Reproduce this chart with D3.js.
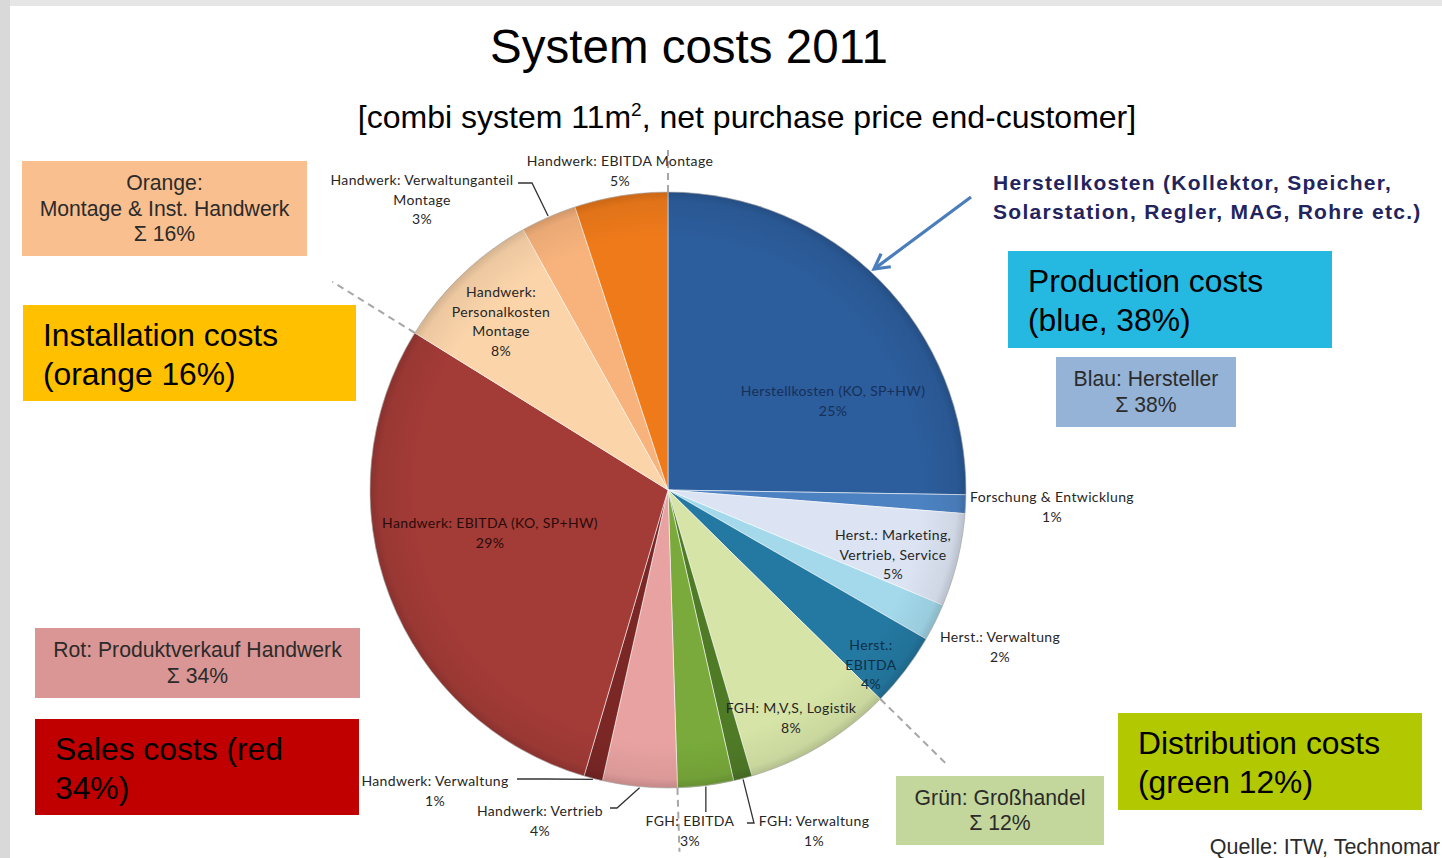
<!DOCTYPE html>
<html>
<head>
<meta charset="utf-8">
<script src="https://cdn.jsdelivr.net/npm/d3@7"></script>
<style>
  body { margin: 0; background: #ffffff; }
  svg { display: block; }
</style>
</head>
<body>
<svg id="chart" width="1442" height="858"></svg>
<script>
// ---- data -------------------------------------------------------------
const categories = [
  ["Herstellkosten (KO, SP+HW)"],
  ["Forschung & Entwicklung"],
  ["Herst.: Marketing,", "Vertrieb, Service"],
  ["Herst.: Verwaltung"],
  ["Herst.:", "EBITDA"],
  ["FGH: M,V,S,  Logistik"],
  ["FGH: Verwaltung"],
  ["FGH: EBITDA"],
  ["Handwerk: Vertrieb"],
  ["Handwerk: Verwaltung"],
  ["Handwerk: EBITDA (KO, SP+HW)"],
  ["Handwerk:", "Personalkosten", "Montage"],
  ["Handwerk: Verwaltunganteil", "Montage"],
  ["Handwerk: EBITDA  Montage"]
];
const values = [25, 1, 5, 2, 4, 8, 1, 3, 4, 1, 29, 8, 3, 5];
const sliceGroups = ["blue","blue","blue","blue","blue","green","green","green",
                     "red","red","red","orange","orange","orange"];
const sliceColors = ["#2c5d9c", "#4c82c2", "#dce4f3", "#a3d9eb", "#2479a2",
                     "#d6e4a7", "#4f7b27", "#79aa3b",
                     "#e8a2a1", "#7b2725", "#a33b37",
                     "#fbd4aa", "#f8b37c", "#ef7a1a"];

const titleText = "System costs 2011";
const subtitleParts = ["[combi system 11m", "2", ", net purchase price end-customer]"];
const heading = ["Herstellkosten (Kollektor, Speicher,", "Solarstation, Regler, MAG, Rohre etc.)"];
const sourceText = "Quelle: ITW, Technomar";

// group summary boxes
const summaryBoxes = [
  { lines: ["Orange:", "Montage & Inst. Handwerk", "\u03A3 16%"], fill: "#f9bf8f", x: 22, y: 161, w: 285, h: 95 },
  { lines: ["Blau: Hersteller", "\u03A3 38%"], fill: "#95b3d7", x: 1056, y: 357, w: 180, h: 70 },
  { lines: ["Rot: Produktverkauf Handwerk", "\u03A3 34%"], fill: "#d99694", x: 35, y: 628, w: 325, h: 70 },
  { lines: ["Gr\u00FCn: Gro\u00DFhandel", "\u03A3 12%"], fill: "#c3d69b", x: 896, y: 776, w: 208, h: 69 }
];
// english call-out boxes
const calloutBoxes = [
  { lines: ["Installation costs", "(orange 16%)"], fill: "#ffc000", x: 23, y: 305, w: 333, h: 96 },
  { lines: ["Production costs", "(blue, 38%)"], fill: "#25b9e2", x: 1008, y: 251, w: 324, h: 97 },
  { lines: ["Sales costs (red", "34%)"], fill: "#c00000", x: 35, y: 719, w: 324, h: 96 },
  { lines: ["Distribution costs", "(green 12%)"], fill: "#b2c800", x: 1118, y: 713, w: 304, h: 97 }
];

// ---- layout -----------------------------------------------------------
const svg = d3.select("#chart");
const cx = 668, cy = 490, R = 298;
const toRad = Math.PI / 180;

// page background: light frame on top and left
svg.append("rect").attr("x", 0).attr("y", 0).attr("width", 1442).attr("height", 858).attr("fill", "#ffffff");
svg.append("rect").attr("x", 0).attr("y", 0).attr("width", 1442).attr("height", 6).attr("fill", "#e6e6e6");
svg.append("rect").attr("x", 0).attr("y", 0).attr("width", 10).attr("height", 858).attr("fill", "#d9d9d9");

// titles
svg.append("text")
  .attr("x", 689).attr("y", 63)
  .attr("text-anchor", "middle")
  .style("font-family", "'Liberation Sans', Arial, sans-serif")
  .style("font-size", "47.5px")
  .attr("fill", "#000")
  .text(titleText);

const sub = svg.append("text")
  .attr("x", 747).attr("y", 128)
  .attr("text-anchor", "middle")
  .style("font-family", "'Liberation Sans', Arial, sans-serif")
  .style("font-size", "32px")
  .attr("fill", "#000");
sub.append("tspan").text(subtitleParts[0]);
sub.append("tspan").attr("dy", -12).style("font-size", "19px").text(subtitleParts[1]);
sub.append("tspan").attr("dy", 12).text(subtitleParts[2]);

// ---- pie --------------------------------------------------------------
const pie = d3.pie().sort(null).value(d => d.value);
const slices = pie(values.map((v, i) => ({ value: v, name: categories[i], group: sliceGroups[i], color: sliceColors[i] })));
const arc = d3.arc().innerRadius(0).outerRadius(R);

// soft rim shading, in the pie group's own coordinates
const defs = svg.append("defs");
const shade = defs.append("radialGradient")
  .attr("id", "pieShade").attr("gradientUnits", "userSpaceOnUse")
  .attr("cx", 0).attr("cy", 0).attr("r", R);
shade.append("stop").attr("offset", 0).attr("stop-color", "#000").attr("stop-opacity", 0);
shade.append("stop").attr("offset", 0.85).attr("stop-color", "#000").attr("stop-opacity", 0);
shade.append("stop").attr("offset", 0.97).attr("stop-color", "#000").attr("stop-opacity", 0.06);
shade.append("stop").attr("offset", 1).attr("stop-color", "#000").attr("stop-opacity", 0.16);

const pieG = svg.append("g").attr("transform", `translate(${cx},${cy})`);
pieG.selectAll("path.slice")
  .data(slices)
  .join("path")
  .attr("class", "slice")
  .attr("d", arc)
  .attr("fill", d => d.data.color)
  .attr("stroke", "rgba(255,255,255,0.55)")
  .attr("stroke-width", 1);
pieG.append("circle").attr("r", R).attr("fill", "url(#pieShade)")
  .attr("stroke", "rgba(90,90,90,0.3)").attr("stroke-width", 1);

// point on the pie at an angle (radians, clockwise from 12 o'clock)
const polar = (a, r) => [cx + r * Math.sin(a), cy - r * Math.cos(a)];

// group separators: dashed lines where the colour group changes
const sepLength = { "orange|blue": 340, "blue|green": 392, "green|red": 362, "red|orange": 395 };
slices.forEach((s, i) => {
  const prev = slices[(i - 1 + slices.length) % slices.length];
  if (prev.data.group !== s.data.group) {
    const key = prev.data.group + "|" + s.data.group;
    const p0 = polar(s.startAngle, R);
    const p1 = polar(s.startAngle, sepLength[key]);
    svg.append("line")
      .attr("x1", p0[0]).attr("y1", p0[1]).attr("x2", p1[0]).attr("y2", p1[1])
      .attr("stroke", "#a6a6a6").attr("stroke-width", 2).attr("stroke-dasharray", "7,5");
  }
});

// label anchors (first baseline, centre) relative to the pie centre
const labelLayout = [
  { dx: 165, dy: -94, fill: "#17305a" },
  { dx: 384, dy: 12 },
  { dx: 225, dy: 50 },
  { dx: 332, dy: 152 },
  { dx: 203, dy: 160, fill: "#0f2f45" },
  { dx: 123, dy: 223 },
  { dx: 146, dy: 336, leader: [[-67, -3], [-60, -3]] },
  { dx: 22, dy: 336, leader: "vertical" },
  { dx: -128, dy: 326, leader: [[70, -8], [77, -8]] },
  { dx: -233, dy: 296, leader: [[82, -7], [112, -7]] },
  { dx: -178, dy: 38, fill: "#2a0b0a" },
  { dx: -167, dy: -193 },
  { dx: -246, dy: -305, leader: [[96, -2], [110, -2]] },
  { dx: -48, dy: -324 }
];
const lineH = 19.5;

const labelG = svg.append("g")
  .style("font-family", "Lato, 'Open Sans', sans-serif")
  .style("font-size", "14px")
  .style("letter-spacing", "0.35px");

slices.forEach((s, i) => {
  const L = labelLayout[i];
  const x = cx + L.dx, y = cy + L.dy;
  const lines = s.data.name.concat([s.data.value + "%"]);
  const t = labelG.append("text")
    .attr("text-anchor", "middle")
    .attr("fill", L.fill || "#262626");
  lines.forEach((ln, k) => {
    t.append("tspan").attr("x", x).attr("y", y + k * lineH).text(ln);
  });
  if (L.leader) {
    const mid = (s.startAngle + s.endAngle) / 2;
    const edge = polar(mid, R + 1);
    let pts;
    if (L.leader === "vertical") {
      pts = [[edge[0], edge[1]], [edge[0], y - 14]];
    } else {
      pts = L.leader.map(p => [x + p[0], y + p[1]]);
      pts.push(edge);
    }
    svg.append("path")
      .attr("d", d3.line()(pts))
      .attr("fill", "none").attr("stroke", "#333").attr("stroke-width", 1.3);
  }
});

// ---- annotation boxes -------------------------------------------------
const boxFont = "'Liberation Sans', Arial, sans-serif";
summaryBoxes.forEach(b => {
  svg.append("rect").attr("x", b.x).attr("y", b.y).attr("width", b.w).attr("height", b.h)
    .attr("fill", b.fill);
  const n = b.lines.length;
  const lh = 25.5;
  const y0 = b.y + b.h / 2 - (n - 1) * lh / 2 + 7;
  const t = svg.append("text").attr("text-anchor", "middle")
    .style("font-family", boxFont).style("font-size", "21.2px").attr("fill", "#2b2b2b");
  b.lines.forEach((ln, k) => t.append("tspan").attr("x", b.x + b.w / 2).attr("y", y0 + k * lh).text(ln));
});

calloutBoxes.forEach(b => {
  svg.append("rect").attr("x", b.x).attr("y", b.y).attr("width", b.w).attr("height", b.h)
    .attr("fill", b.fill);
  const t = svg.append("text")
    .style("font-family", boxFont).style("font-size", "31.8px").attr("fill", "#000");
  b.lines.forEach((ln, k) => t.append("tspan").attr("x", b.x + 20).attr("y", b.y + 41 + k * 38.5).text(ln));
});

// manufacturer heading with arrow into the blue slice
const hd = svg.append("text")
  .style("font-family", boxFont).style("font-size", "21px").style("font-weight", "bold")
  .style("letter-spacing", "1.3px")
  .attr("fill", "#23235e");
heading.forEach((ln, k) => hd.append("tspan").attr("x", 993).attr("y", 190 + k * 29).text(ln));

const aStart = [971, 197], aEnd = polar(43 * toRad, 302);
svg.append("line")
  .attr("x1", aStart[0]).attr("y1", aStart[1]).attr("x2", aEnd[0]).attr("y2", aEnd[1])
  .attr("stroke", "#4a7dbb").attr("stroke-width", 3.2);
{
  const ang = Math.atan2(aEnd[1] - aStart[1], aEnd[0] - aStart[0]);
  const hl = 17, hw = 0.5;
  const p1 = [aEnd[0] - hl * Math.cos(ang - hw), aEnd[1] - hl * Math.sin(ang - hw)];
  const p2 = [aEnd[0] - hl * Math.cos(ang + hw), aEnd[1] - hl * Math.sin(ang + hw)];
  svg.append("path").attr("d", d3.line()([p1, aEnd, p2]))
    .attr("fill", "none").attr("stroke", "#4a7dbb").attr("stroke-width", 3.2)
    .attr("stroke-linejoin", "miter");
}

// source note
svg.append("text")
  .attr("x", 1440).attr("y", 854)
  .attr("text-anchor", "end")
  .style("font-family", boxFont).style("font-size", "21.5px")
  .attr("fill", "#2b2b2b")
  .text(sourceText);
</script>
</body>
</html>
